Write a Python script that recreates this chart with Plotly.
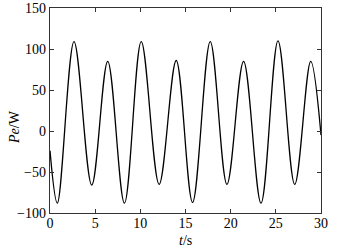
import plotly.graph_objects as go

# time (s) and power (W): start, alternating extremes, end
t_s = [0.0, 0.81, 2.66, 4.62, 6.39, 8.24, 10.1, 12.08, 13.97, 15.78, 17.74,
       19.59, 21.43, 23.36, 25.24, 27.09, 28.86, 30.0]
pe_w = [-24, -88, 109, -66, 85, -88, 109, -65, 86, -87, 109,
        -65, 85, -88, 110, -65, 85, -5]

x_ticks = [0, 5, 10, 15, 20, 25, 30]
y_ticks = [-100, -50, 0, 50, 100, 150]

font = dict(family="Liberation Serif, Times New Roman, serif", size=14, color="black")

fig = go.Figure(go.Scatter(
    x=t_s, y=pe_w, mode="lines",
    line=dict(color="black", width=1.3, shape="spline", smoothing=1.0),
    hoverinfo="skip"))

axis_common = dict(showgrid=False, zeroline=False, showline=True, linecolor="#333",
                   linewidth=1.2, mirror="ticks", ticks="inside", ticklen=4,
                   tickcolor="#333", tickfont=font, automargin=False)

fig.update_layout(
    width=351, height=251,
    margin=dict(l=50, r=30, t=8, b=38),
    paper_bgcolor="white", plot_bgcolor="white",
    showlegend=False, font=font,
    xaxis=dict(range=[0, 30], tickvals=x_ticks, ticklabelstandoff=-3, **axis_common),
    yaxis=dict(range=[-100, 150], tickvals=y_ticks, **axis_common),
    annotations=[
        dict(text="<i>t</i>/s", xref="paper", yref="paper", x=0.5, y=-0.132,
             xanchor="center", yanchor="middle", showarrow=False, font=font),
        dict(text="<i>Pe</i>/W", xref="paper", yref="paper", x=-0.129, y=0.42,
             xanchor="center", yanchor="middle", showarrow=False, textangle=-90, font=font),
    ],
)

fig.write_html("out.html", config={"displayModeBar": False, "staticPlot": True},
               post_script="document.body.style.margin='0px';")
